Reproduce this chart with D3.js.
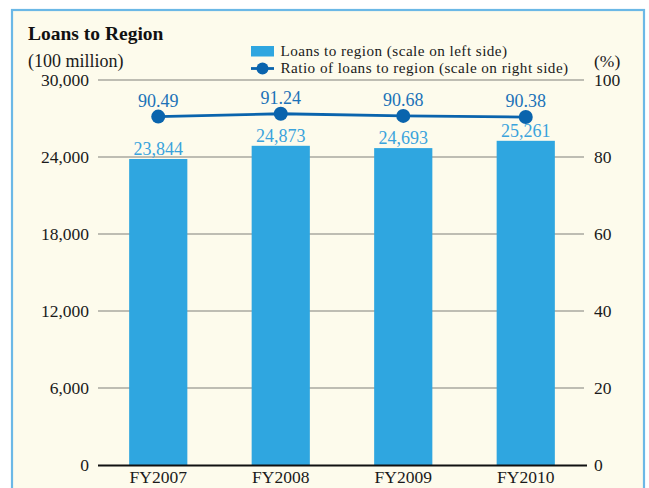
<!DOCTYPE html>
<html><head><meta charset="utf-8">
<script src="https://cdn.jsdelivr.net/npm/d3@7"></script>
<style>
html,body{margin:0;padding:0;background:#fff;}
svg{display:block;}
svg text{font-family:"Liberation Serif","Times New Roman",serif;}
</style></head>
<body>
<svg id="chart" width="649" height="488"></svg>
<script>
const categories = ["FY2007","FY2008","FY2009","FY2010"];
const loans = [23844, 24873, 24693, 25261];
const ratios = [90.49, 91.24, 90.68, 90.38];
const leftTicks = [0, 6000, 12000, 18000, 24000, 30000];
const rightTicks = [0, 20, 40, 60, 80, 100];

const FF = "Liberation Serif, Times New Roman, serif";
const svg = d3.select("#chart");
const plotB = 465;

// panel
svg.append("rect").attr("x",12).attr("y",10).attr("width",632).attr("height",490)
  .attr("fill","#fdfbec").attr("stroke","#6bb8e6").attr("stroke-width",2.2);

const x = d3.scaleBand().domain(categories).range([97, 587]).paddingInner(0.525).paddingOuter(0.2625);
const yL = d3.scaleLinear().domain([0, 30000]).range([plotB, 80]);
const yR = d3.scaleLinear().domain([0, 100]).range([plotB, 80]);

// gridlines
svg.append("g").selectAll("line").data(leftTicks.filter(d=>d>0)).join("line")
  .attr("x1",98).attr("x2",584).attr("y1",d=>yL(d)).attr("y2",d=>yL(d))
  .attr("stroke","#a9a8a0").attr("stroke-width",1.4);

const fmt = d3.format(",");
const axL = svg.append("g").attr("transform","translate(98,0)")
  .call(d3.axisLeft(yL).tickValues(leftTicks).tickFormat(fmt).tickSize(0).tickPadding(9));
axL.attr("font-family",FF);
axL.select(".domain").remove();
axL.selectAll("text").attr("font-size",17.5).attr("fill","#1a1a1a").attr("font-family",FF);

const axR = svg.append("g").attr("transform","translate(584,0)")
  .call(d3.axisRight(yR).tickValues(rightTicks).tickSize(0).tickPadding(10));
axR.attr("font-family",FF);
axR.select(".domain").remove();
axR.selectAll("text").attr("font-size",17.5).attr("fill","#1a1a1a").attr("font-family",FF);

// bars
svg.append("g").selectAll("rect").data(loans).join("rect")
  .attr("x",(d,i)=>x(categories[i])).attr("width",x.bandwidth())
  .attr("y",d=>yL(d)).attr("height",d=>plotB-yL(d))
  .attr("fill","#2fa6e0");

// bar labels
svg.append("g").selectAll("text").data(loans).join("text")
  .attr("x",(d,i)=>x(categories[i])+x.bandwidth()/2).attr("y",d=>yL(d)-4)
  .attr("text-anchor","middle").attr("font-size",18).attr("font-family",FF).attr("fill","#3aa3dc")
  .text(d=>fmt(d));

// baseline
svg.append("line").attr("x1",98).attr("x2",587).attr("y1",plotB+0.5).attr("y2",plotB+0.5)
  .attr("stroke","#111").attr("stroke-width",2);

// x labels
const axB = svg.append("g").attr("transform",`translate(0,${plotB})`)
  .call(d3.axisBottom(x).tickSize(0).tickPadding(6));
axB.attr("font-family",FF);
axB.select(".domain").remove();
axB.selectAll("text").attr("font-size",17.5).attr("fill","#1a1a1a").attr("font-family",FF);

// line
const cx = (d,i)=>x(categories[i])+x.bandwidth()/2;
const line = d3.line().x((d,i)=>cx(d,i)).y(d=>yR(d));
svg.append("path").datum(ratios).attr("d",line).attr("fill","none")
  .attr("stroke","#0a64ad").attr("stroke-width",2.8);
svg.append("g").selectAll("circle").data(ratios).join("circle")
  .attr("cx",cx).attr("cy",d=>yR(d)).attr("r",7).attr("fill","#0a64ad");
svg.append("g").selectAll("text").data(ratios).join("text")
  .attr("x",cx).attr("y",d=>yR(d)-10).attr("text-anchor","middle")
  .attr("font-size",18).attr("font-family",FF).attr("fill","#1b72b8").text(d=>d.toFixed(2));

// title
svg.append("text").attr("x",28).attr("y",40).attr("font-size",19.5).attr("font-weight","bold")
  .attr("font-family",FF).attr("fill","#111").text("Loans to Region");
svg.append("text").attr("x",28).attr("y",67).attr("font-size",18).attr("font-family",FF)
  .attr("fill","#1a1a1a").text("(100 million)");
svg.append("text").attr("x",594).attr("y",67).attr("font-size",17.5).attr("font-family",FF)
  .attr("fill","#1a1a1a").text("(%)");

// legend
const lg = svg.append("g").attr("font-family",FF);
lg.append("rect").attr("x",251).attr("y",46).attr("width",23).attr("height",10.5).attr("fill","#2fa6e0");
lg.append("text").attr("x",280.5).attr("y",56).attr("font-size",15.2).attr("letter-spacing",0.45)
  .attr("fill","#1a1a1a").text("Loans to region (scale on left side)");
lg.append("line").attr("x1",251).attr("x2",274).attr("y1",68.5).attr("y2",68.5)
  .attr("stroke","#0a64ad").attr("stroke-width",2.8);
lg.append("circle").attr("cx",262.5).attr("cy",68.5).attr("r",6).attr("fill","#0a64ad");
lg.append("text").attr("x",280.5).attr("y",73.2).attr("font-size",15.2).attr("letter-spacing",0.45)
  .attr("fill","#1a1a1a").text("Ratio of loans to region (scale on right side)");
</script>
</body></html>
